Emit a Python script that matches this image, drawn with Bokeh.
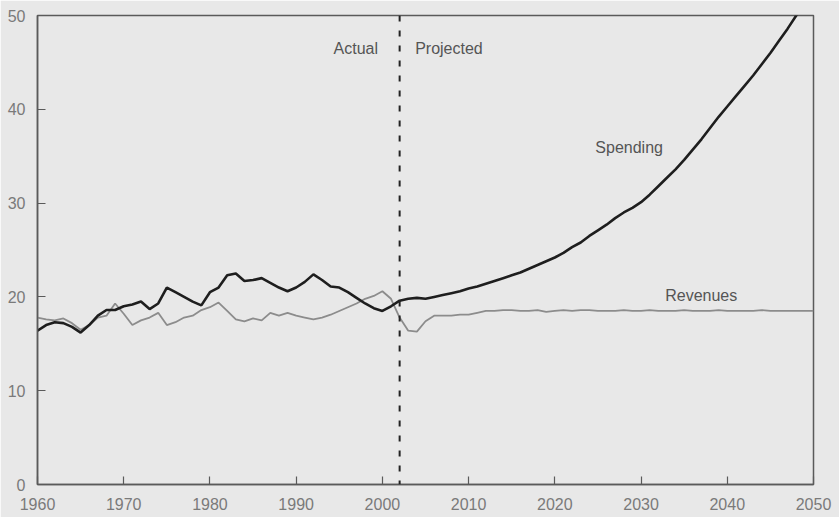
from bokeh.plotting import figure
from bokeh.models import FixedTicker, Span, Label, Range1d
from bokeh.embed import file_html
from bokeh.resources import INLINE

# ---- data (percent of GDP) ----
years = list(range(1960, 2051))

spending_hist = [16.4, 17.0, 17.3, 17.2, 16.8, 16.2, 17.0, 18.0, 18.6, 18.6,
                 19.0, 19.2, 19.5, 18.7, 19.3, 21.0, 20.5, 20.0, 19.5, 19.1,
                 20.5, 21.0, 22.3, 22.5, 21.7, 21.8, 22.0, 21.5, 21.0, 20.6,
                 21.0, 21.6, 22.4, 21.8, 21.1, 21.0, 20.5, 19.9, 19.3, 18.8,
                 18.5, 19.0]  # 1960-2001
spending_proj = [19.6, 19.8, 19.9, 19.8, 20.0, 20.2, 20.4, 20.6, 20.9, 21.1,
                 21.4, 21.7, 22.0, 22.3, 22.6, 23.0, 23.4, 23.8, 24.2, 24.7,
                 25.3, 25.8, 26.5, 27.1, 27.7, 28.4, 29.0, 29.5, 30.1, 30.9,
                 31.8, 32.7, 33.6, 34.6, 35.7, 36.8, 38.0, 39.2, 40.3, 41.4,
                 42.5, 43.6, 44.8, 46.0, 47.3, 48.6, 50.0, 51.4, 52.8]  # 2002-2050

revenues_hist = [17.8, 17.6, 17.5, 17.7, 17.2, 16.5, 17.0, 17.8, 18.0, 19.3,
                 18.2, 17.0, 17.5, 17.8, 18.3, 17.0, 17.3, 17.8, 18.0, 18.6,
                 18.9, 19.4, 18.5, 17.6, 17.4, 17.7, 17.5, 18.3, 18.0, 18.3,
                 18.0, 17.8, 17.6, 17.8, 18.1, 18.5, 18.9, 19.3, 19.8, 20.1,
                 20.6, 19.8]  # 1960-2001
revenues_proj = [17.8, 16.4, 16.3, 17.4, 18.0, 18.0, 18.0, 18.1, 18.1, 18.3,
                 18.5, 18.5, 18.6, 18.6, 18.5, 18.5, 18.6, 18.4, 18.5, 18.6,
                 18.5, 18.6, 18.6, 18.5, 18.5, 18.5, 18.6, 18.5, 18.5, 18.6,
                 18.5, 18.5, 18.5, 18.6, 18.5, 18.5, 18.5, 18.6, 18.5, 18.5,
                 18.5, 18.5, 18.6, 18.5, 18.5, 18.5, 18.5, 18.5, 18.5]  # 2002-2050

spending = spending_hist + spending_proj
revenues = revenues_hist + revenues_proj

x_ticks = [1960, 1970, 1980, 1990, 2000, 2010, 2020, 2030, 2040, 2050]
y_ticks = [0, 10, 20, 30, 40, 50]
divider_year = 2002

BG = "#e8e8e8"
AXIS = "#5a5a5a"
FONT = "Liberation Sans"

p = figure(width=839, height=517, output_backend="svg", toolbar_location=None,
           x_range=Range1d(1960, 2050), y_range=Range1d(0, 50),
           min_border_left=37, min_border_right=26, min_border_top=15,
           min_border_bottom=33)
p.background_fill_color = BG
p.border_fill_color = BG
p.outline_line_color = AXIS
p.outline_line_width = 1.5
p.grid.visible = False

for ax in (p.xaxis[0], p.yaxis[0]):
    ax.axis_line_color = AXIS
    ax.axis_line_width = 1.5
    ax.major_tick_line_color = AXIS
    ax.major_tick_line_width = 1.2
    ax.major_tick_in = 8
    ax.major_tick_out = 0
    ax.minor_tick_line_color = None
    ax.major_label_text_font = FONT
    ax.major_label_text_font_size = "16px"
    ax.major_label_text_color = "#7a7a7a"

p.xaxis.ticker = FixedTicker(ticks=x_ticks)
p.yaxis.ticker = FixedTicker(ticks=y_ticks)
p.xaxis.major_label_standoff = 13
p.yaxis.major_label_standoff = 12

p.line(years, revenues, line_color="#8c8c8c", line_width=1.8)
p.line(years, spending, line_color="#1e1e1e", line_width=2.6)

p.add_layout(Span(location=divider_year, dimension="height",
                  line_color="#222222", line_width=2, line_dash="6 9"))

lab = dict(text_font=FONT, text_font_size="16px", text_color="#555555",
           text_baseline="middle")
p.add_layout(Label(x=1999.5, y=46.5, text="Actual", text_align="right", **lab))
p.add_layout(Label(x=2003.8, y=46.5, text="Projected", text_align="left", **lab))
p.add_layout(Label(x=2024.7, y=35.9, text="Spending", text_align="left", **lab))
p.add_layout(Label(x=2032.8, y=20.1, text="Revenues", text_align="left", **lab))

open("out.html", "w").write(file_html(p, INLINE))
